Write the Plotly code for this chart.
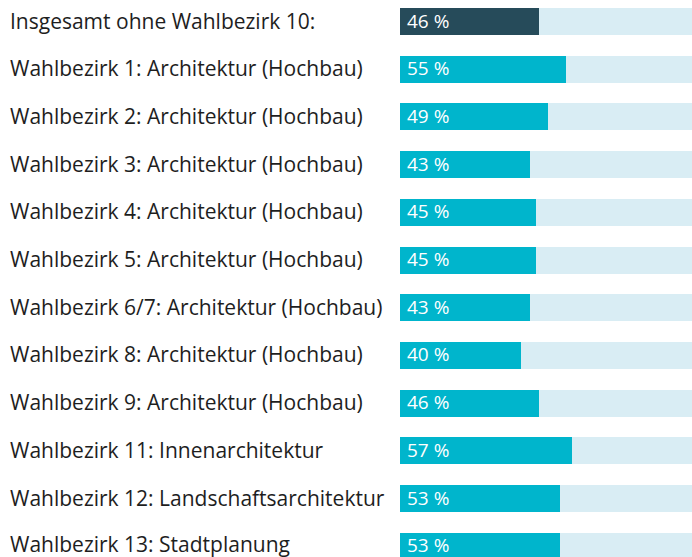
import plotly.graph_objects as go

categories = [
    "Insgesamt ohne Wahlbezirk 10:",
    "Wahlbezirk 1: Architektur (Hochbau)",
    "Wahlbezirk 2: Architektur (Hochbau)",
    "Wahlbezirk 3: Architektur (Hochbau)",
    "Wahlbezirk 4: Architektur (Hochbau)",
    "Wahlbezirk 5: Architektur (Hochbau)",
    "Wahlbezirk 6/7: Architektur (Hochbau)",
    "Wahlbezirk 8: Architektur (Hochbau)",
    "Wahlbezirk 9: Architektur (Hochbau)",
    "Wahlbezirk 11: Innenarchitektur",
    "Wahlbezirk 12: Landschaftsarchitektur",
    "Wahlbezirk 13: Stadtplanung",
]
values = [46, 55, 49, 43, 45, 45, 43, 40, 46, 57, 53, 53]
value_labels = [f"{v} %" for v in values]
full = [100] * len(values)

DARK = "#264b5a"
CYAN = "#00b5cc"
LIGHT = "#d9edf4"
colors = [DARK] + [CYAN] * (len(values) - 1)

idx = list(range(len(categories)))

fig = go.Figure()
fig.add_trace(go.Bar(
    y=idx, x=full, orientation="h", width=0.566,
    marker=dict(color=LIGHT, line=dict(width=0)),
    hoverinfo="skip", showlegend=False,
))
fig.add_trace(go.Bar(
    y=idx, x=values, orientation="h", width=0.566,
    marker=dict(color=colors, line=dict(width=0)),
    showlegend=False,
))

W = 292
n = len(categories)
for i, (cat, lab) in enumerate(zip(categories, value_labels)):
    ys = 2 if i == n - 1 else 1
    fig.add_annotation(
        x=(8 - 400) / W, xref="paper", y=i, yref="y", yshift=ys,
        text=cat, showarrow=False, xanchor="left", yanchor="middle",
        font=dict(family="Open Sans", size=21, color="#1e1e1e"),
    )
    fig.add_annotation(
        x=0, xref="x", y=i, yref="y", xshift=5, yshift=1,
        text=lab, showarrow=False, xanchor="left", yanchor="middle",
        font=dict(family="Open Sans", size=19, color="white"),
    )

fig.update_layout(
    width=692, height=557,
    margin=dict(l=400, r=0, t=0, b=0),
    paper_bgcolor="white", plot_bgcolor="white",
    barmode="overlay", bargap=0,
    xaxis=dict(range=[0, 292 / 3.02], visible=False, fixedrange=True),
    yaxis=dict(range=[11.226, -0.4507], visible=False, fixedrange=True),
)

fig.write_html(
    "out.html",
    config={"displayModeBar": False},
    post_script="document.body.style.margin='0';",
)
